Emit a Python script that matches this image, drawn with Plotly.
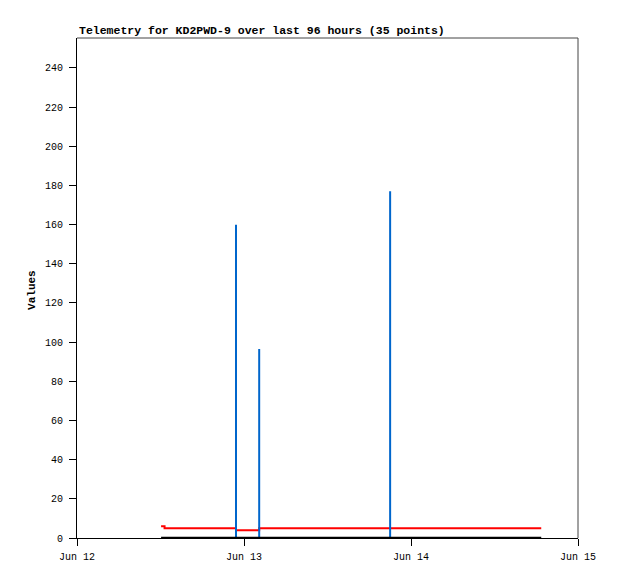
import plotly.graph_objects as go

# ---- data ----
red_times = ["2024-06-12 12:05", "2024-06-12 12:35", "2024-06-12 22:51", "2024-06-13 02:11", "2024-06-14 18:43"]
red_values = [6, 5, 4, 5, 5]

black_times = ["2024-06-12 12:05", "2024-06-14 18:43"]
black_values = [0, 0]

spike_times = ["2024-06-12 22:51", "2024-06-13 02:11", "2024-06-13 21:00"]
spike_values = [160, 96.5, 177]

x_tick_vals = ["2024-06-12", "2024-06-13", "2024-06-14", "2024-06-15"]
x_tick_text = ["Jun 12", "Jun 13", "Jun 14", "Jun 15"]
y_tick_vals = list(range(0, 241, 20))

title_text = "Telemetry for KD2PWD-9 over last 96 hours (35 points)"
y_title = "Values"

# impulses built from the spike arrays
bx, by = [], []
for t, v in zip(spike_times, spike_values):
    bx += [t, t, None]
    by += [0, v, None]

FONT = "Liberation Mono"

fig = go.Figure()
fig.add_trace(go.Scatter(x=red_times, y=red_values, mode="lines",
                         line=dict(color="#ff0000", width=2, shape="hv"),
                         hoverinfo="skip", showlegend=False))
fig.add_trace(go.Scatter(x=bx, y=by, mode="lines",
                         line=dict(color="#0066cc", width=2),
                         hoverinfo="skip", showlegend=False))
fig.add_trace(go.Scatter(x=black_times, y=black_values, mode="lines",
                         line=dict(color="#000000", width=2.5),
                         hoverinfo="skip", showlegend=False, cliponaxis=False))

fig.update_layout(
    width=610, height=571,
    margin=dict(l=69, r=40, t=30, b=41),
    paper_bgcolor="white", plot_bgcolor="white",
    font=dict(family=FONT, size=10, color="black"),
    showlegend=False,
    xaxis=dict(range=["2024-06-12", "2024-06-15"], tickvals=x_tick_vals, ticktext=x_tick_text,
               showgrid=False, zeroline=False, showline=True, linecolor="black", linewidth=1,
               ticks="outside", ticklen=7, tickcolor="black", tickwidth=1,
               ticklabelstandoff=2,
               tickfont=dict(family=FONT, size=10)),
    yaxis=dict(range=[0, 255.3], tickvals=y_tick_vals,
               showgrid=False, zeroline=False, showline=True, linecolor="black", linewidth=1,
               ticks="outside", ticklen=7, tickcolor="black", tickwidth=1,
               ticklabelstandoff=4,
               tickfont=dict(family=FONT, size=10)),
    shapes=[
        dict(type="line", xref="paper", yref="paper", x0=0, x1=1, y0=1, y1=1,
             line=dict(color="#444444", width=1)),
        dict(type="line", xref="paper", yref="paper", x0=1, x1=1, y0=0, y1=1,
             line=dict(color="#444444", width=1)),
    ],
    annotations=[
        dict(text="<b>" + title_text + "</b>", xref="paper", yref="paper",
             x=0, y=1, xanchor="left", yanchor="bottom", yshift=-1, showarrow=False,
             font=dict(family=FONT, size=11.5, color="black")),
        dict(text="<b>" + y_title + "</b>", xref="paper", yref="paper",
             x=-0.09, y=0.496, xanchor="center", yanchor="middle", textangle=-90,
             showarrow=False, font=dict(family=FONT, size=11, color="black")),
    ],
)

fig.write_html("out.html")
